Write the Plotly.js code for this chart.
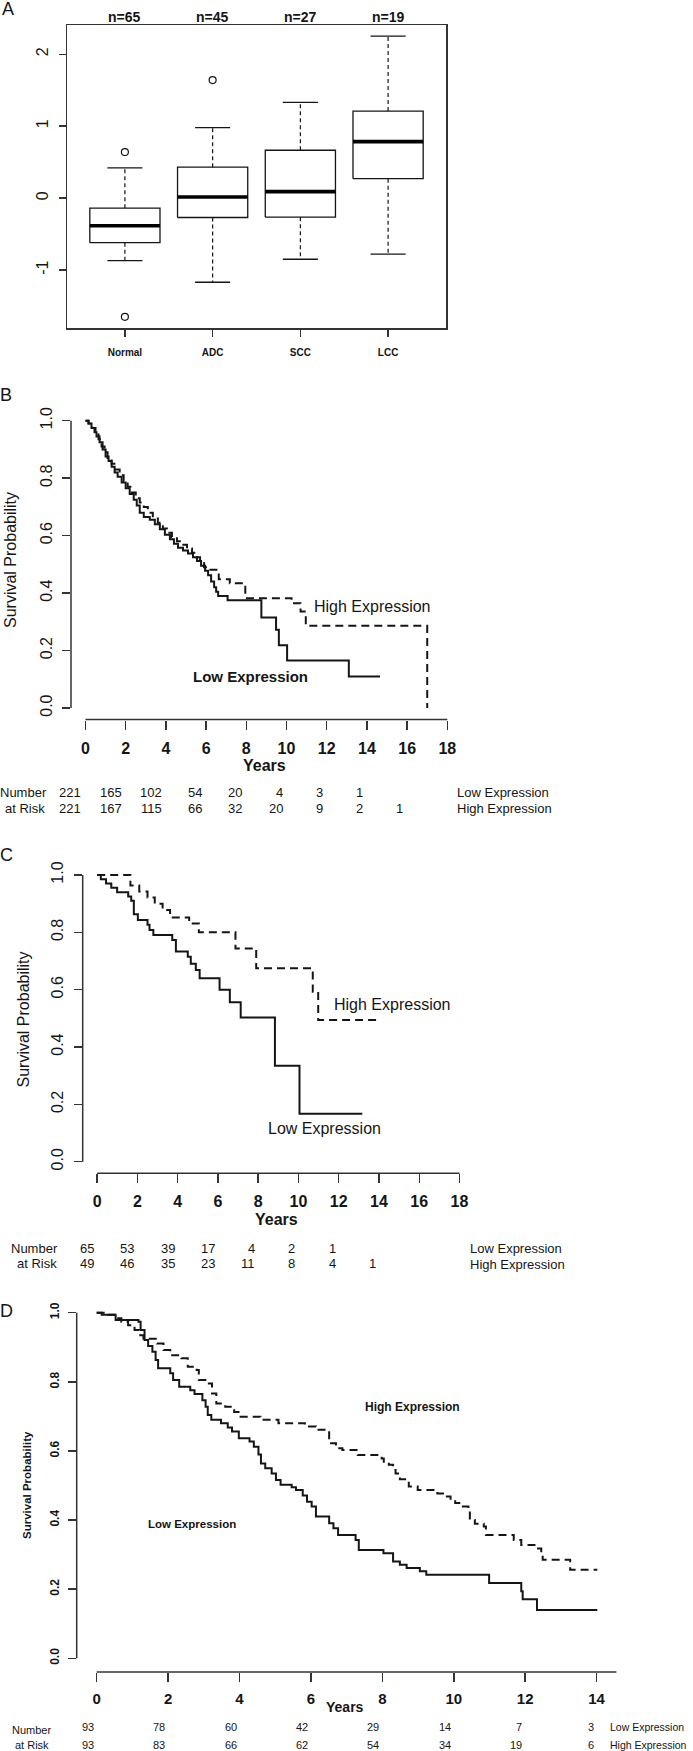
<!DOCTYPE html>
<html><head><meta charset="utf-8">
<script src="https://cdn.plot.ly/plotly-3.0.1.min.js"></script>
<style>html,body{margin:0;padding:0;background:#fff}#chart{width:693px;height:1751px}</style>
</head><body><div id="chart"></div>
<script>
// ---------- Panel A : box plot ----------
const categories = ['Normal', 'ADC', 'SCC', 'LCC'];
const sampleSizes = ['n=65', 'n=45', 'n=27', 'n=19'];
const boxLower  = [-0.87, -1.17, -0.85, -0.78];
const boxQ1     = [-0.62, -0.27, -0.265, 0.27];
const boxMedian = [-0.385, 0.015, 0.09, 0.785];
const boxQ3     = [-0.14, 0.43, 0.665, 1.21];
const boxUpper  = [0.42, 0.98, 1.33, 2.25];
const outlierGroup = [0, 0, 1];
const outlierValue = [0.64, -1.65, 1.64];
const aYTicks = [-1, 0, 1, 2];
const aYTickText = ['-1', '0', '1', '2'];

// ---------- Panel B ----------
const bLowTime = [0,0.15,0.3,0.45,0.55,0.7,0.85,1.0,1.15,1.3,1.45,1.6,1.8,2.0,2.2,2.4,2.55,2.7,2.9,3.2,3.45,3.7,3.95,4.2,4.4,4.6,4.85,5.1,5.35,5.55,5.75,5.95,6.1,6.25,6.4,6.5,6.6,7.07,8.75,9.48,9.62,10.03,13.1,14.65];
const bLowSurv = [1,0.99,0.975,0.96,0.945,0.925,0.9,0.875,0.86,0.84,0.82,0.805,0.785,0.765,0.745,0.725,0.705,0.68,0.665,0.655,0.64,0.622,0.603,0.587,0.572,0.558,0.548,0.538,0.525,0.512,0.495,0.478,0.462,0.44,0.42,0.405,0.39,0.375,0.315,0.272,0.218,0.165,0.11,0.11];
const bHighTime = [0,0.15,0.35,0.5,0.65,0.8,0.95,1.1,1.3,1.5,1.7,1.9,2.1,2.3,2.5,2.7,2.9,3.1,3.35,3.6,3.85,4.05,4.3,4.55,4.8,5.05,5.3,5.5,5.7,5.9,6.05,6.63,7.18,7.95,10.25,10.7,10.96,17.0];
const bHighSurv = [1,0.99,0.975,0.955,0.935,0.91,0.89,0.87,0.85,0.83,0.81,0.79,0.77,0.75,0.73,0.715,0.70,0.68,0.66,0.645,0.625,0.61,0.595,0.58,0.568,0.555,0.54,0.525,0.505,0.49,0.481,0.448,0.434,0.382,0.365,0.336,0.286,0];
const bTicks = [0,2,4,6,8,10,12,14,16,18];
const bRiskLow  = [221,165,102,54,20,4,3,1];
const bRiskHigh = [221,167,115,66,32,20,9,2,1];

// ---------- Panel C ----------
const cLowTime = [0,0.18,0.44,0.70,0.99,1.54,1.69,1.82,2.02,2.5,2.6,2.79,3.73,3.91,4.5,4.65,4.9,5.09,6.08,6.59,7.13,8.83,10.05,13.17];
const cLowSurv = [1,0.985,0.97,0.955,0.94,0.925,0.91,0.863,0.843,0.826,0.808,0.791,0.773,0.733,0.715,0.69,0.669,0.64,0.60,0.556,0.503,0.335,0.167,0.167];
const cHighTime = [0,1.65,2.09,2.5,2.86,3.25,3.62,4.57,5.05,6.87,7.90,10.71,10.98,14.0];
const cHighSurv = [1,0.963,0.942,0.921,0.90,0.878,0.852,0.831,0.80,0.744,0.675,0.593,0.494,0.494];
const cTicks = [0,2,4,6,8,10,12,14,16,18];
const cRiskLow  = [65,53,39,17,4,2,1];
const cRiskHigh = [49,46,35,23,11,8,4,1];

// ---------- Panel D ----------
const dLowTime = [0,0.14,0.53,1.17,1.23,1.34,1.44,1.56,1.65,1.72,2.06,2.14,2.31,2.62,2.74,2.96,3.05,3.11,3.21,3.48,3.67,3.79,3.98,4.28,4.40,4.53,4.60,4.72,4.90,5.02,5.15,5.46,5.58,5.77,5.89,6.02,6.14,6.51,6.63,6.76,7.25,7.34,8.03,8.30,8.49,8.68,9.05,9.23,10.99,11.89,11.93,12.33,14.02];
const dLowSurv = [1,0.994,0.979,0.974,0.95,0.921,0.904,0.887,0.863,0.839,0.825,0.805,0.786,0.776,0.765,0.747,0.728,0.704,0.690,0.680,0.668,0.656,0.637,0.627,0.612,0.59,0.564,0.550,0.535,0.516,0.502,0.495,0.487,0.471,0.453,0.439,0.410,0.391,0.376,0.357,0.342,0.313,0.304,0.280,0.271,0.261,0.252,0.242,0.218,0.194,0.171,0.140,0.140];
const dHighTime = [0,0.32,0.53,0.69,0.88,1.06,1.19,1.31,1.69,1.87,2.06,2.37,2.55,2.80,2.86,3.11,3.23,3.35,3.60,3.85,4.03,4.59,5.09,5.83,6.14,6.51,6.70,6.88,7.31,7.98,8.04,8.18,8.30,8.37,8.49,8.74,8.99,9.54,9.73,9.91,10.04,10.22,10.41,10.45,10.59,10.84,10.90,11.68,11.89,12.33,12.45,12.49,13.26,14.02];
const dHighSurv = [1,0.994,0.984,0.974,0.964,0.95,0.935,0.925,0.911,0.892,0.877,0.868,0.844,0.834,0.805,0.795,0.766,0.737,0.728,0.713,0.699,0.690,0.680,0.671,0.661,0.622,0.608,0.603,0.588,0.578,0.569,0.560,0.545,0.535,0.518,0.497,0.487,0.477,0.468,0.458,0.449,0.439,0.429,0.400,0.389,0.381,0.357,0.342,0.328,0.318,0.299,0.285,0.256,0.256];
const dTicks = [0,2,4,6,8,10,12,14];
const dRiskLow  = [93,78,60,42,29,14,7,3];
const dRiskHigh = [93,83,66,62,54,34,19,6];

const survTicks = [0, 0.2, 0.4, 0.6, 0.8, 1.0];
const rowLabels = ['Number', 'at Risk'];
const groupLabels = ['Low Expression', 'High Expression'];

// ---------- helpers ----------
const W = 693, H = 1751;
const SANS = 'Liberation Sans, Arial, Helvetica, sans-serif';
const INK = '#151515';
const AX = '#333333';
const X = px => px / W;
const Y = py => 1 - py / H;
const dom = (a, b) => [a / W, b / W];
const domY = (top, bottom) => [1 - bottom / H, 1 - top / H];
function padRange(lo, hi) { const d = (hi - lo) * 0.04; return [lo - d, hi + d]; }

const traces = [];

// Panel A boxes
const halfBox = 0.4, halfCap = 0.2;
const rx = [], ry = [], mx = [], my = [], wx = [], wy = [], cx = [], cy = [];
categories.forEach((c, i) => {
  rx.push(i - halfBox, i + halfBox, i + halfBox, i - halfBox, i - halfBox, null);
  ry.push(boxQ1[i], boxQ1[i], boxQ3[i], boxQ3[i], boxQ1[i], null);
  mx.push(i - halfBox, i + halfBox, null); my.push(boxMedian[i], boxMedian[i], null);
  wx.push(i, i, null, i, i, null); wy.push(boxQ3[i], boxUpper[i], null, boxQ1[i], boxLower[i], null);
  cx.push(i - halfCap, i + halfCap, null, i - halfCap, i + halfCap, null);
  cy.push(boxUpper[i], boxUpper[i], null, boxLower[i], boxLower[i], null);
});
traces.push({x: wx, y: wy, xaxis: 'x', yaxis: 'y', mode: 'lines', line: {color: INK, width: 1.2, dash: '4px,3px'}, hoverinfo: 'skip'});
traces.push({x: cx, y: cy, xaxis: 'x', yaxis: 'y', mode: 'lines', line: {color: INK, width: 1.3}, hoverinfo: 'skip'});
traces.push({x: rx, y: ry, xaxis: 'x', yaxis: 'y', mode: 'lines', line: {color: INK, width: 1.3}, hoverinfo: 'skip'});
traces.push({x: mx, y: my, xaxis: 'x', yaxis: 'y', mode: 'lines', line: {color: '#000', width: 3.6}, hoverinfo: 'skip'});
traces.push({x: outlierGroup, y: outlierValue, xaxis: 'x', yaxis: 'y', mode: 'markers',
  marker: {symbol: 'circle-open', size: 7, color: INK, line: {width: 1.2, color: INK}}, hoverinfo: 'skip'});

const allA = boxLower.concat(boxUpper, outlierValue);
const aYRange = padRange(Math.min(...allA), Math.max(...allA));
const aXRange = padRange(-0.5, categories.length - 0.5);

// KM curves
function km(t, s, ax, dashed, w) {
  return {x: t, y: s, xaxis: 'x' + ax, yaxis: 'y' + ax, mode: 'lines',
    line: {shape: 'hv', color: INK, width: w, dash: dashed ? '8px,5px' : 'solid'}, hoverinfo: 'skip'};
}
traces.push(km(bLowTime, bLowSurv, 2, false, 2));
traces.push(km(bHighTime, bHighSurv, 2, true, 2));
traces.push(km(cLowTime, cLowSurv, 3, false, 2));
traces.push(km(cHighTime, cHighSurv, 3, true, 2));
traces.push(km(dLowTime, dLowSurv, 4, false, 2));
traces.push(km(dHighTime, dHighSurv, 4, true, 2));

const bXRange = padRange(bTicks[0], bTicks[bTicks.length - 1]);
const cXRange = padRange(cTicks[0], cTicks[cTicks.length - 1]);
const dXRange = padRange(dTicks[0], dTicks[dTicks.length - 1]);
const sRange = padRange(0, 1);

function xAx(domain, range, anchor, ticks, fontSize, standoff) {
  return {domain, range, anchor, tickvals: ticks, ticks: 'outside', ticklen: 9, tickwidth: 1.5, tickcolor: AX,
    showline: false, showgrid: false, zeroline: false, fixedrange: true, ticklabelstandoff: standoff,
    tickfont: {family: SANS, size: fontSize, weight: 700, color: INK}};
}
function yAx(domain, anchor, fontSize, bold, standoff) {
  return {domain, range: sRange, anchor, tickvals: survTicks, tickformat: '.1f', tickangle: -90,
    ticks: 'outside', ticklen: 8, tickwidth: 1.5, tickcolor: AX, ticklabelstandoff: standoff,
    showline: false, showgrid: false, zeroline: false, fixedrange: true,
    tickfont: {family: SANS, size: fontSize, weight: bold ? 700 : 400, color: INK}};
}

const layout = {
  width: W, height: H, margin: {l: 0, r: 0, t: 0, b: 0},
  paper_bgcolor: '#fff', plot_bgcolor: 'rgba(0,0,0,0)', showlegend: false,
  font: {family: SANS, color: INK},
  xaxis: {domain: dom(67, 446), range: aXRange, anchor: 'y', tickvals: categories.map((c, i) => i), ticktext: categories,
    ticks: 'outside', ticklen: 7, tickwidth: 1.3, tickcolor: AX, showline: true, mirror: true, linecolor: AX, linewidth: 1.5,
    showgrid: false, zeroline: false, fixedrange: true, ticklabelstandoff: 7,
    tickfont: {family: SANS, size: 10, weight: 700, color: INK}},
  yaxis: {domain: domY(25, 328), range: aYRange, anchor: 'x', tickvals: aYTicks, ticktext: aYTickText, tickangle: -90,
    ticks: 'outside', ticklen: 7, tickwidth: 1.3, tickcolor: AX, showline: true, mirror: true, linecolor: AX, linewidth: 1.5,
    showgrid: false, zeroline: false, fixedrange: true, ticklabelstandoff: 4,
    tickfont: {family: SANS, size: 16, color: INK}},
  xaxis2: xAx(dom(71.0, 461.8), bXRange, 'y2', bTicks, 16, 5),
  yaxis2: yAx(domY(409.2, 719.5), 'x2', 16, false, 4),
  xaxis3: xAx(dom(82.7, 474.0), cXRange, 'y3', cTicks, 16, 5),
  yaxis3: yAx(domY(863.5, 1173.2), 'x3', 16, false, 4),
  xaxis4: xAx(dom(76.7, 616.6), dXRange, 'y4', dTicks, 15, 4),
  yaxis4: yAx(domY(1298.9, 1672.1), 'x4', 12, true, 4),
  shapes: [],
  annotations: []
};

// axis lines (R style: spanning tick range)
[['2', bTicks], ['3', cTicks]].forEach(([a, t]) => {
  layout.shapes.push({type: 'line', xref: 'x' + a, yref: 'y' + a + ' domain', x0: t[0], x1: t[t.length - 1], y0: 0, y1: 0, line: {color: AX, width: 1.5}});
});
layout.shapes.push({type: 'line', xref: 'x4', yref: 'y4 domain', x0: dTicks[0], x1: dXRange[1], y0: 0, y1: 0, line: {color: AX, width: 1.5}});
['2', '3', '4'].forEach(a => {
  layout.shapes.push({type: 'line', xref: 'x' + a + ' domain', yref: 'y' + a, x0: 0, x1: 0, y0: survTicks[0], y1: survTicks[survTicks.length - 1], line: {color: AX, width: 1.5}});
});

const ann = layout.annotations;
function txt(text, x, y, size, opts) {
  ann.push(Object.assign({text, x: X(x), y: Y(y), xref: 'paper', yref: 'paper', showarrow: false,
    xanchor: 'center', yanchor: 'middle', font: {family: SANS, size, color: INK}}, opts || {}));
}
// panel letters
txt('A', 8, 9, 18); txt('B', 6, 395, 18); txt('C', 6, 855, 18); txt('D', 6, 1311, 18);

// sample sizes
sampleSizes.forEach((s, i) => ann.push({text: s, x: i, xref: 'x', y: Y(17), yref: 'paper', showarrow: false,
  xanchor: 'center', yanchor: 'middle', font: {family: SANS, size: 14, weight: 700, color: INK}}));

// axis titles
txt('Years', 264, 765, 16, {font: {family: SANS, size: 16, weight: 700, color: INK}});
txt('Years', 276.5, 1219, 16, {font: {family: SANS, size: 16, weight: 700, color: INK}});
txt('Years', 345, 1707, 14, {font: {family: SANS, size: 14, weight: 700, color: INK}});
txt('Survival Probability', 10, 560, 16, {textangle: -90});
txt('Survival Probability', 23, 1019.5, 16, {textangle: -90});
txt('Survival Probability', 27, 1485, 11.5, {textangle: -90, font: {family: SANS, size: 11.5, weight: 700, color: INK}});

// in-plot group labels
function inLabel(text, ax, x, y, size, bold) {
  ann.push({text, x, y, xref: 'x' + ax, yref: 'y' + ax, showarrow: false, xanchor: 'center', yanchor: 'middle',
    font: {family: SANS, size, weight: bold ? 700 : 400, color: INK}});
}
inLabel(groupLabels[1], 2, 14.30, 0.352, 16, false);
inLabel(groupLabels[0], 2, 8.23, 0.111, 15, true);
inLabel(groupLabels[1], 3, 14.69, 0.55, 16, false);
inLabel(groupLabels[0], 3, 11.27, 0.116, 16, false);
inLabel(groupLabels[1], 4, 8.83, 0.728, 12, true);
inLabel(groupLabels[0], 4, 2.67, 0.389, 11.5, true);

// risk tables
function riskRow(ax, times, values, yPx, size, shift) {
  values.forEach((v, i) => ann.push({text: String(v), x: times[i], xref: 'x' + ax, y: Y(yPx), yref: 'paper',
    showarrow: false, xanchor: 'right', yanchor: 'middle', xshift: shift,
    font: {family: SANS, size, color: INK}}));
}
function sideText(text, x, y, size, anchor) {
  ann.push({text, x: X(x), y: Y(y), xref: 'paper', yref: 'paper', showarrow: false, xanchor: anchor, yanchor: 'middle',
    font: {family: SANS, size, color: INK}});
}
// B
sideText(rowLabels[0], 48.6, 792.3, 13, 'right'); sideText(rowLabels[1], 47, 808.3, 13, 'right');
riskRow('2', bTicks, bRiskLow, 792.3, 13, -2); riskRow('2', bTicks, bRiskHigh, 808.3, 13, -2);
sideText(groupLabels[0], 455, 792.3, 13, 'left'); sideText(groupLabels[1], 455, 808.3, 13, 'left');
// C
sideText(rowLabels[0], 60, 1248.3, 13, 'right'); sideText(rowLabels[1], 59, 1263.5, 13, 'right');
riskRow('3', cTicks, cRiskLow, 1248.3, 13, -1); riskRow('3', cTicks, cRiskHigh, 1263.5, 13, -1);
sideText(groupLabels[0], 468.4, 1248.3, 13, 'left'); sideText(groupLabels[1], 468.4, 1264, 13, 'left');
// D
sideText(rowLabels[0], 31.7, 1730, 11, 'center'); sideText(rowLabels[1], 31.7, 1745, 11, 'center');
riskRow('4', dTicks, dRiskLow, 1727.3, 11, -1); riskRow('4', dTicks, dRiskHigh, 1744.5, 11, -1);
sideText(groupLabels[0], 608, 1727.3, 10.5, 'left'); sideText(groupLabels[1], 608, 1744.5, 10.5, 'left');

Plotly.newPlot('chart', traces, layout, {staticPlot: true, displayModeBar: false});
</script>
</body></html>
